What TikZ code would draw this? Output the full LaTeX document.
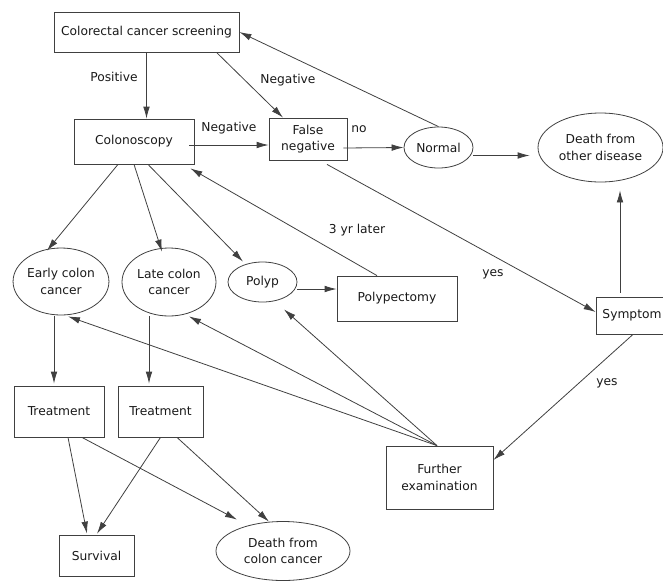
\documentclass[tikz,border=0pt]{standalone}
\usepackage{fontspec}
\setmainfont{DejaVu Sans}
\usetikzlibrary{shapes.geometric, arrows.meta, calc}

\tikzset{
  box/.style = {draw = black!75, line width = 0.6pt, rectangle, inner sep = 0pt, align = center, text = black!90},
  oval/.style = {draw = black!75, line width = 0.6pt, ellipse, inner sep = 0pt, align = center, text = black!90},
  arr/.style = {draw = black!75, line width = 0.6pt, -{Latex[length = 9pt, width = 5pt]}},
  lab/.style = {text = black!90, inner sep = 0pt}
}

\begin{document}
\begin{tikzpicture}[x = 0.75pt, y = -0.75pt, font = \fontsize{9.2}{12.5}\selectfont]
		\useasboundingbox (0, 0) rectangle (663, 582);
		\node[box, minimum width = 138.75pt, minimum height = 30pt] (scr) at (146.5, 32) {Colorectal cancer screening};
		\node[box, minimum width = 90pt, minimum height = 33.75pt] (colo) at (134, 141.5) {Colonoscopy};
		\node[box, minimum width = 58.5pt, minimum height = 31.5pt] (fneg) at (308, 139) {False\\negative};
		\node[oval, minimum width = 51.75pt, minimum height = 30.75pt] (normal) at (438.5, 147.5) {Normal};
		\node[oval, minimum width = 93.75pt, minimum height = 51.75pt] (dother) at (600.5, 147.5) {Death from\\other disease};
		\node[oval, minimum width = 70.5pt, minimum height = 50.25pt] (early) at (61, 281.5) {Early colon\\cancer};
		\node[oval, minimum width = 70.5pt, minimum height = 51pt] (late) at (169, 282) {Late colon\\cancer};
		\node[oval, minimum width = 51.75pt, minimum height = 30pt] (polyp) at (262.5, 282) {Polyp};
		\node[box, minimum width = 90pt, minimum height = 33.75pt] (polypec) at (397, 298.5) {Polypectomy};
		\node[box, minimum width = 54pt, minimum height = 27.75pt] (symp) at (632, 315.5) {Symptom};
		\node[box, minimum width = 67.5pt, minimum height = 38.25pt] (treat1) at (59, 411.5) {Treatment};
		\node[box, minimum width = 63.75pt, minimum height = 38.25pt] (treat2) at (160.5, 411.5) {Treatment};
		\node[box, minimum width = 56.25pt, minimum height = 30.75pt] (surv) at (96.5, 555.5) {Survival};
		\node[oval, minimum width = 100.5pt, minimum height = 44.25pt] (dcolon) at (283, 551) {Death from\\colon cancer};
		\node[box, minimum width = 80.25pt, minimum height = 47.25pt] (furth) at (439.5, 477.5) {Further\\examination};

		\draw[arr] (scr) -- (scr |- colo.north);
		\draw[arr] ($(scr.south) + (70, 0)$) -- ($(fneg.north) + (-25, 0)$);
		\draw[arr] (normal.north) -- (scr.east);
		\draw[arr] ($(colo.east) + (-5, 3.5)$) -- ($(fneg.west) + (0, 6)$);
		\draw[arr] ($(fneg.east) + (-4, 9)$) -- (normal.west);
		\draw[arr] ($(normal.east) + (0, 8)$) -- ($(dother.west) + (-8, 8)$);
		\draw[arr] ($(fneg.south) + (19, 4)$) -- ($(symp.west) + (0, -3.5)$);
		\draw[arr] ($(symp.north) + (-12, -4)$) -- ($(dother.south) + (19.5, 8)$);
		\draw[arr] ($(symp.south) + (1, 0)$) -- ($(furth.east) + (0, -17.5)$);
		\draw[arr] ($(colo.south) + (-16, 0)$) -- ($(early.north) + (-14, 3)$);
		\draw[arr] (colo.south) -- ($(late.north) + (-7, 4)$);
		\draw[arr] ($(colo.south) + (14, 0)$) -- ($(polyp.north) + (-19.5, 0)$);
		\draw[arr] ($(polyp.east) + (0, 7)$) -- ($(polypec.west) + (0, -9.5)$);
		\draw[arr] ($(polypec.north) + (-20, 0)$) -- ($(colo.south east) + (-4, 4)$);
		\draw[arr] ($(furth.north) + (-2.5, 0)$) -- ($(polyp.south) + (21.5, 7)$);
		\draw[arr] ($(furth.north) + (-2.5, 0)$) -- ($(late.south) + (20, 0)$);
		\draw[arr] ($(furth.north) + (-2.5, 0)$) -- ($(early.south) + (7, 1)$);
		\draw[arr] ($(early.south) + (-7, 1)$) -- ($(treat1.north) + (-5, -2)$);
		\draw[arr] ($(late.south) + (-20, 0)$) -- ($(treat2.north) + (-11.5, -2)$);
		\draw[arr] ($(treat1.south) + (9, 0)$) -- ($(surv.north) + (-9.5, -1)$);
		\draw[arr] ($(treat1.south) + (23, 0)$) -- ($(dcolon.north) + (-46, -1.5)$);
		\draw[arr] (treat2.south) -- ($(surv.north) + (0.5, -1)$);
		\draw[arr] ($(treat2.south) + (16.5, 0)$) -- ($(dcolon.north) + (-14, 0.5)$);

		\node[lab] (lpos) at (114, 77) {Positive};
		\node[lab] (lneg1) at (288, 80) {Negative};
		\node[lab] (lneg2) at (229, 128) {Negative};
		\node[lab] (lno) at (359, 129) {no};
		\node[lab] (llater) at (357, 230) {3 yr later};
		\node[lab] (lyes1) at (493, 274) {yes};
		\node[lab] (lyes2) at (607, 383) {yes};
\end{tikzpicture}
\end{document}
